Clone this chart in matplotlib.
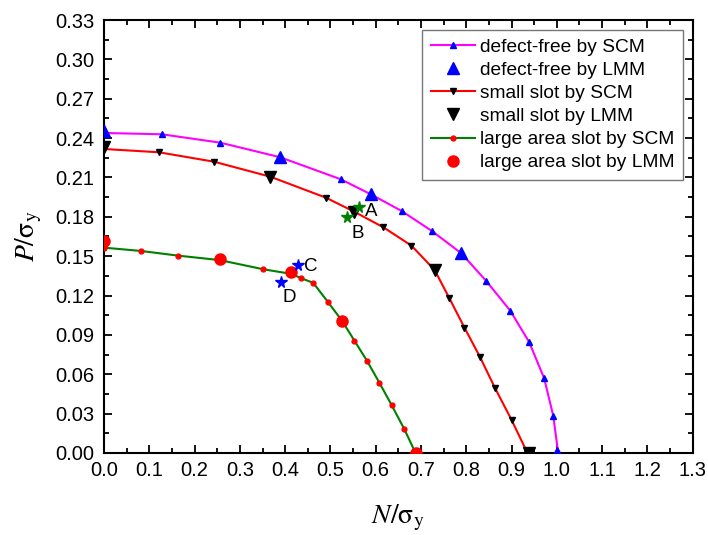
import matplotlib
matplotlib.use("Agg")
import matplotlib.pyplot as plt
from matplotlib.ticker import MultipleLocator

# defect-free
free_scm_x = [0, 0.128, 0.257, 0.389, 0.523, 0.589, 0.657, 0.724, 0.789, 0.844, 0.897, 0.939, 0.972, 0.992, 1.003]
free_scm_y = [0.2439, 0.2429, 0.2365, 0.2254, 0.2086, 0.1972, 0.1845, 0.1692, 0.1522, 0.1311, 0.1085, 0.0844, 0.0569, 0.0284, 0.0]
free_lmm_x = [0, 0.389, 0.589, 0.789, 1.0]
free_lmm_y = [0.2454, 0.2254, 0.1972, 0.1522, 0.0]

# small slot
small_scm_x = [0, 0.121, 0.243, 0.367, 0.490, 0.552, 0.617, 0.679, 0.730, 0.762, 0.796, 0.830, 0.863, 0.900, 0.935]
small_scm_y = [0.2317, 0.2292, 0.2220, 0.2106, 0.1946, 0.1840, 0.1720, 0.1580, 0.1395, 0.1184, 0.0955, 0.0734, 0.0498, 0.0252, 0.0]
small_lmm_x = [0, 0.367, 0.552, 0.730, 0.939]
small_lmm_y = [0.2330, 0.2106, 0.1840, 0.1395, 0.0]

# large area slot
large_scm_x = [0, 0.081, 0.164, 0.256, 0.352, 0.414, 0.436, 0.462, 0.494, 0.526, 0.553, 0.581, 0.608, 0.635, 0.663, 0.688]
large_scm_y = [0.1565, 0.1540, 0.1504, 0.1470, 0.1400, 0.1365, 0.1331, 0.1297, 0.1153, 0.1006, 0.0856, 0.0701, 0.0536, 0.0366, 0.0183, 0.0]
large_lmm_x = [0, 0.256, 0.414, 0.526, 0.688]
large_lmm_y = [0.1616, 0.1479, 0.1380, 0.1006, 0.0]

# test points
green_star_x = [0.563, 0.537]
green_star_y = [0.1877, 0.1796]
green_star_lbl = ["A", "B"]
blue_star_x = [0.429, 0.391]
blue_star_y = [0.1433, 0.1306]
blue_star_lbl = ["C", "D"]

plt.rcParams['font.family'] = ['Liberation Sans', 'DejaVu Sans']
plt.rcParams['mathtext.fontset'] = 'stix'

fig = plt.figure(figsize=(7.08, 5.35), dpi=100)
ax = fig.add_axes([0.1469, 0.1533, 0.8315, 0.8093])

ax.plot(free_scm_x, free_scm_y, color='#FF00FF', lw=1.5, marker='^', ms=4,
        mfc='#0000FF', mec='#0000FF', label='defect-free by SCM', zorder=3)
ax.plot(free_lmm_x, free_lmm_y, ls='none', marker='^', ms=8.5, color='#0000FF',
        label='defect-free by LMM', zorder=4)
ax.plot(small_scm_x, small_scm_y, color='#FF0000', lw=1.5, marker='v', ms=4,
        mfc='black', mec='black', label='small slot by SCM', zorder=3)
ax.plot(small_lmm_x, small_lmm_y, ls='none', marker='v', ms=8.5, color='black',
        label='small slot by LMM', zorder=4)
ax.plot(large_scm_x, large_scm_y, color='#008000', lw=1.5, marker='o', ms=3.5,
        mfc='#FF0000', mec='#FF0000', label='large area slot by SCM', zorder=3)
ax.plot(large_lmm_x, large_lmm_y, ls='none', marker='o', ms=8, color='#FF0000',
        label='large area slot by LMM', zorder=4)

ax.plot(green_star_x, green_star_y, ls='none', marker='*', ms=8.5, color='#008000', zorder=5)
ax.plot(blue_star_x, blue_star_y, ls='none', marker='*', ms=8.5, color='#0000FF', zorder=5)
ax.annotate(green_star_lbl[0], (green_star_x[0], green_star_y[0]), xytext=(4, -7),
            textcoords='offset points', fontsize=13.5)
ax.annotate(green_star_lbl[1], (green_star_x[1], green_star_y[1]), xytext=(3, -15),
            textcoords='offset points', fontsize=13.5)
ax.annotate(blue_star_lbl[0], (blue_star_x[0], blue_star_y[0]), xytext=(4, -4),
            textcoords='offset points', fontsize=13.5)
ax.annotate(blue_star_lbl[1], (blue_star_x[1], blue_star_y[1]), xytext=(1, -15),
            textcoords='offset points', fontsize=13.5)

ax.set_xlim(0, 1.3)
ax.set_ylim(0, 0.33)
ax.xaxis.set_major_locator(MultipleLocator(0.1))
ax.xaxis.set_minor_locator(MultipleLocator(0.05))
ax.yaxis.set_major_locator(MultipleLocator(0.03))
ax.yaxis.set_minor_locator(MultipleLocator(0.015))
ax.xaxis.set_major_formatter(plt.FuncFormatter(lambda v, p: '%.1f' % v))
ax.yaxis.set_major_formatter(plt.FuncFormatter(lambda v, p: '%.2f' % v))
ax.tick_params(which='both', direction='in', top=True, right=True, width=1.3, labelsize=14.5)
ax.tick_params(which='major', length=6)
ax.tick_params(which='minor', length=3.5)
ax.tick_params(axis='x', pad=6)
ax.tick_params(axis='y', pad=7)
for s in ax.spines.values():
    s.set_linewidth(1.5)

ax.set_xlabel(r'$N/\mathrm{σ}_{\mathrm{y}}$', fontsize=20, labelpad=16)
ax.set_ylabel(r'$P/\mathrm{σ}_{\mathrm{y}}$', fontsize=20, labelpad=8)

leg = ax.legend(loc='upper right', fontsize=13.8, frameon=True, fancybox=False,
                edgecolor='#555555', handlelength=2.3, borderpad=0.45,
                labelspacing=0.3, handletextpad=0.25, borderaxespad=0.5)
leg.get_frame().set_linewidth(1.0)

fig.savefig('out.png', dpi=100)
